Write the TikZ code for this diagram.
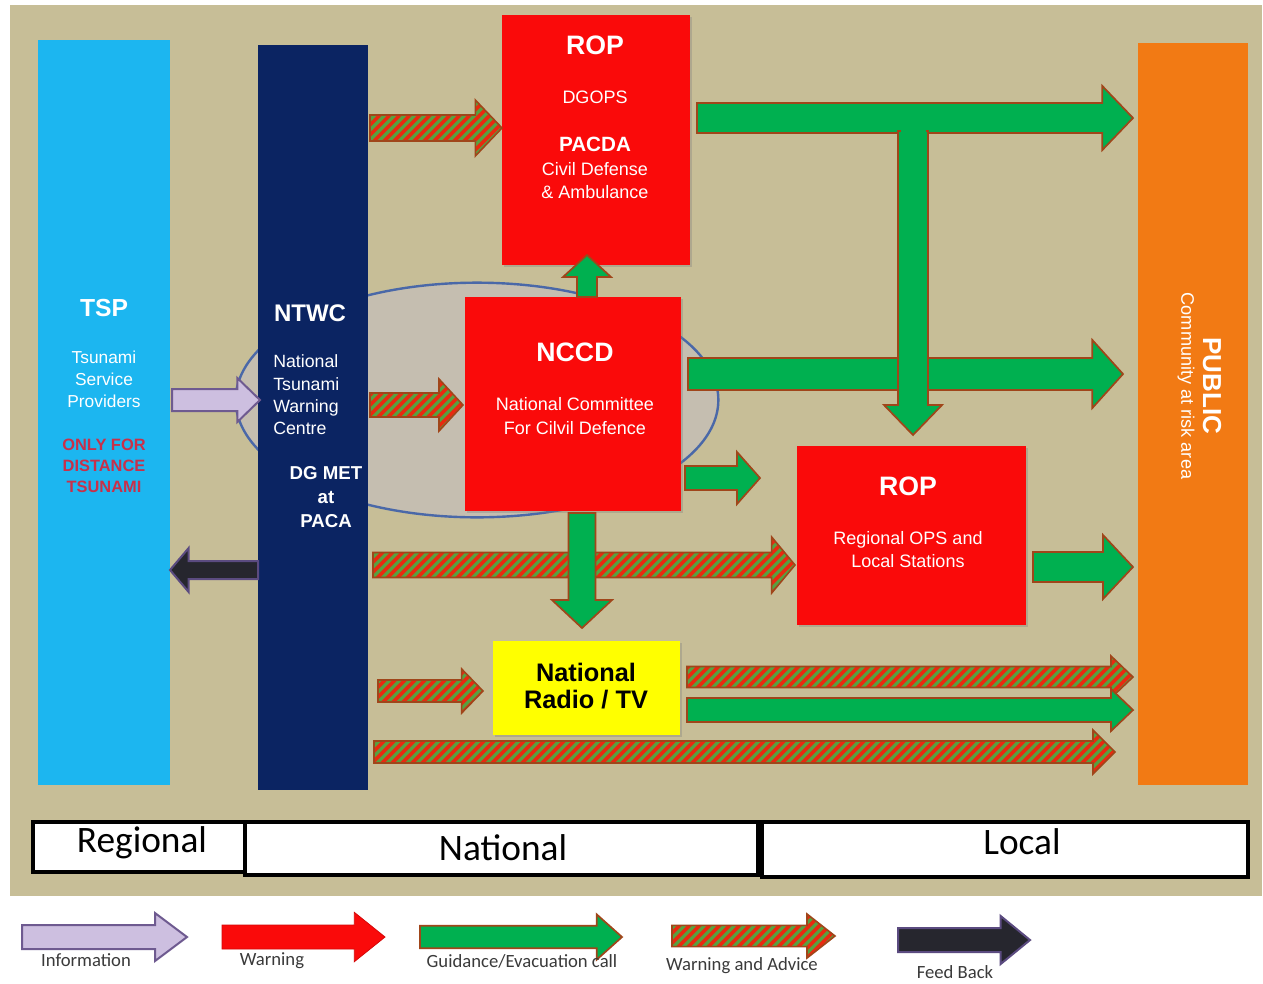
\documentclass[tikz,border=0pt]{standalone}
\usepackage{fontspec}
\setmainfont{Liberation Sans}
\newfontfamily\calib{Carlito}
\usetikzlibrary{calc,fit,shadows,shapes.geometric}
\definecolor{bgbeige}{HTML}{C7BE97}
\definecolor{tspblue}{HTML}{1CB6F0}
\definecolor{navy}{HTML}{0B2462}
\definecolor{boxred}{HTML}{FA0A0A}
\definecolor{radioyel}{HTML}{FFFF00}
\definecolor{pubor}{HTML}{F27A14}
\definecolor{arrgreen}{HTML}{00B050}
\definecolor{brownline}{HTML}{A0461A}
\definecolor{stripered}{HTML}{E82A10}
\definecolor{stripegreen}{HTML}{58A040}
\definecolor{lav}{HTML}{CDBFE0}
\definecolor{lavdark}{HTML}{6E5A90}
\definecolor{fbdark}{HTML}{26262E}
\definecolor{fbpurple}{HTML}{5B4B80}
\definecolor{ellfill}{HTML}{C5BEB0}
\definecolor{ellblue}{HTML}{4A68A8}
\definecolor{onlyred}{HTML}{C8304A}
\definecolor{legtext}{HTML}{3A3A3A}
\newcommand\arrowpoly[5]{let \p1=(#1), \p2=(#2), \n1={atan2(\y2-\y1,\x2-\x1)} in
  ($(\p1)+(\n1+90:#3)$) -- ($(\p2)+(\n1+180:#5)+(\n1+90:#3)$) --
  ($(\p2)+(\n1+180:#5)+(\n1+90:#4)$) -- (\p2) --
  ($(\p2)+(\n1+180:#5)+(\n1-90:#4)$) -- ($(\p2)+(\n1+180:#5)+(\n1-90:#3)$) --
  ($(\p1)+(\n1-90:#3)$) -- cycle}
\newcommand\blockarrow[6][]{\path[#1] \arrowpoly{#2}{#3}{#4}{#5}{#6};}
\newcommand\stripearrow[5]{%
  \begin{scope}
    \clip \arrowpoly{#1}{#2}{#3}{#4}{#5};
    \fill[stripered] (0,0) rectangle (1263,983);
    \foreach \k in {-1000,-990,...,1260} \draw[stripegreen,line width=2.4pt] (\k,1000) -- ++(1000,-1000);
  \end{scope}
  \draw[brownline,line width=1.2pt,line join=miter] \arrowpoly{#1}{#2}{#3}{#4}{#5};}
\begin{document}
\begin{tikzpicture}[x=0.75pt,y=-0.75pt,
  box/.style={inner sep=0pt,outer sep=0pt},
  shbox/.style={box,drop shadow={shadow xshift=1.3pt,shadow yshift=-1.3pt,opacity=0.35}},
  redbox/.style={shbox,fill=boxred},
  ttl/.style={font=\fontsize{20}{24}\selectfont\bfseries,text=white,inner sep=0pt},
  body/.style={font=\fontsize{13.5}{17.25}\selectfont,text=white,align=center,inner sep=0pt},
  garrow/.style={fill=arrgreen,draw=brownline,line width=1.3pt,line join=miter},
  infoa/.style={fill=lav,draw=lavdark,line width=1.5pt,line join=miter},
  fba/.style={fill=fbdark,draw=fbpurple,line width=1.5pt,line join=miter},
  warna/.style={fill=boxred,draw=boxred!85!black,line width=0.6pt,line join=miter},
  band/.style={box,fill=white,draw=black,line width=2.3pt,drop shadow={shadow xshift=1pt,shadow yshift=-1.5pt,opacity=0.4}},
  bandtext/.style={font=\calib\fontsize{28}{30}\selectfont,inner sep=0pt},
  legtxt/.style={font=\calib\fontsize{14}{16}\selectfont,text=legtext,inner sep=0pt}]
\useasboundingbox (0,0) rectangle (1263,983);
\fill[white] (0,0) rectangle (1263,983);
\fill[bgbeige] (10,5) rectangle (1262,896);
% ellipse
\node[ellipse,draw=ellblue,fill=ellfill,line width=1.8pt,minimum width=362pt,minimum height=176pt,inner sep=0pt] (ell) at (477,400) {};
% main boxes
\node[box,fill=tspblue,fit={(38,40) (170,785)}] (tsp) {};
\node[box,fill=navy,fit={(258,45) (368,790)}] (ntwc) {};
\node[redbox,fit={(502,15) (690,265)}] (rop1) {};
\node[redbox,fit={(465,297) (681,511)}] (nccd) {};
\node[redbox,fit={(797,446) (1026,625)}] (rop2) {};
\node[shbox,fill=radioyel,fit={(493,641) (680,735)}] (radio) {};
\node[box,fill=pubor,fit={(1138,43) (1248,785)}] (public) {};
% band boxes
\node[band,fit={(33,822) (245,872)}] (regbox) {};
\node[band,fit={(245,822) (758,875)}] (natbox) {};
\node[band,fit={(762,822) (1248,877)}] (locbox) {};
% arrows: warning and advice (striped)
\stripearrow{$(ntwc.east |- 0,128)+(2,0)$}{rop1.west |- 0,128}{9.75pt}{21pt}{20pt}
\stripearrow{$(ntwc.east |- 0,405)+(2,0)$}{$(nccd.west |- 0,405)+(-2,0)$}{9pt}{19.5pt}{18pt}
\stripearrow{$(ntwc.east |- 0,565)+(5,0)$}{$(rop2.west |- 0,565)+(-2,0)$}{9.4pt}{21pt}{17.5pt}
\stripearrow{$(ntwc.east |- 0,691)+(10,0)$}{$(radio.west |- 0,691)+(-10,0)$}{8.25pt}{16.5pt}{16pt}
\stripearrow{$(ntwc.east |- 0,752)+(6,0)$}{$(public.west |- 0,752)+(-23,0)$}{8.25pt}{16.5pt}{16.5pt}
\stripearrow{$(radio.east |- 0,677)+(7,0)$}{$(public.west |- 0,677)+(-5,0)$}{7.9pt}{15.75pt}{16.5pt}
% information and feedback
\blockarrow[infoa]{$(tsp.east |- 0,400)+(2,0)$}{$(ntwc.west |- 0,400)+(2,0)$}{8.25pt}{16.5pt}{17pt}
\blockarrow[fba]{ntwc.west |- 0,570}{tsp.east |- 0,570}{6.75pt}{16.5pt}{14pt}
% guidance arrows (green)
\blockarrow[garrow]{$(radio.east |- 0,710)+(7,0)$}{$(public.west |- 0,710)+(-5,0)$}{9pt}{15.75pt}{16.5pt}
\blockarrow[garrow]{$(rop1.east |- 0,118)+(7,0)$}{$(public.west |- 0,118)+(-5,0)$}{11.25pt}{24pt}{23pt}
\blockarrow[garrow]{$(nccd.east |- 0,374)+(7,0)$}{$(public.west |- 0,374)+(-15,0)$}{12pt}{25.5pt}{23pt}
\coordinate (tjoin) at (913,131);
\blockarrow[garrow]{tjoin}{$(rop2.north -| 913,0)+(0,-11)$}{11.25pt}{21.75pt}{22.5pt}
\fill[arrgreen] (900.5,127) rectangle (925.5,137);
\blockarrow[garrow]{$(nccd.east |- 0,478)+(4,0)$}{$(rop2.west |- 0,478)+(-37,0)$}{9pt}{19.5pt}{17.25pt}
\blockarrow[garrow]{$(rop2.east |- 0,567)+(7,0)$}{$(public.west |- 0,567)+(-5,0)$}{11.25pt}{24pt}{22.5pt}
\blockarrow[garrow]{$(nccd.south -| 582,0)+(0,2)$}{$(radio.north -| 582,0)+(0,-13)$}{10.1pt}{22.5pt}{21pt}
\blockarrow[garrow]{nccd.north -| 587,0}{$(rop1.south -| 587,0)+(0,-10)$}{7.5pt}{18pt}{16.5pt}
% texts
\node[ttl,font=\fontsize{18.5}{22}\selectfont\bfseries] (tspt) at (104,308) {TSP};
\node[body,font=\fontsize{13}{16.5}\selectfont] (tspb) at (104,379) {Tsunami\\Service\\Providers};
\node[body,text=onlyred,font=\fontsize{12.3}{16}\selectfont\bfseries] (tspo) at (104,466) {ONLY FOR\\DISTANCE\\TSUNAMI};
\node[ttl,font=\fontsize{18}{22}\selectfont\bfseries] (ntwct) at (310,313) {NTWC};
\node[body,align=left,anchor=west,font=\fontsize{13.3}{16.75}\selectfont] (ntwcb) at (273,395) {National\\Tsunami\\Warning\\Centre};
\node[body,font=\fontsize{14}{18}\selectfont\bfseries] (ntwcd) at (326,497) {DG MET\\at\\PACA};
\node[ttl] (rop1t) at (595,45) {ROP};
\node[body] (rop1d) at (595,97) {DGOPS};
\node[ttl,font=\fontsize{15.5}{18}\selectfont\bfseries] (rop1p) at (595,144) {PACDA};
\node[body] (rop1b) at (595,181) {Civil Defense\\\& Ambulance};
\node[ttl] (nccdt) at (575,352) {NCCD};
\node[body,font=\fontsize{13.5}{18}\selectfont] (nccdb) at (575,416) {National Committee\\For Cilvil Defence};
\node[ttl] (rop2t) at (908,486) {ROP};
\node[body] (rop2b) at (908,550) {Regional OPS and\\Local Stations};
\node[body,text=black,font=\fontsize{19}{20.5}\selectfont\bfseries] (radiot) at (586,686) {National\\Radio / TV};
\node[ttl,rotate=-90,font=\fontsize{19.5}{22}\selectfont\bfseries] (pubt) at (1212,386) {PUBLIC};
\node[body,rotate=-90,font=\fontsize{13.6}{16}\selectfont] (pubb) at (1186,386) {Community at risk area};
\node[bandtext] (regt) at (142,843) {Regional};
\node[bandtext] (natt) at (503,848) {National};
\node[bandtext] (loct) at (1022,842) {Local};
% legend
\coordinate (lg1a) at (22,937); \coordinate (lg1b) at (187,937);
\coordinate (lg2a) at (222,937); \coordinate (lg2b) at (385,937);
\coordinate (lg3a) at (420,937); \coordinate (lg3b) at (622,937);
\coordinate (lg4a) at (672,936); \coordinate (lg4b) at (835,936);
\coordinate (lg5a) at (898,940); \coordinate (lg5b) at (1030,940);
\blockarrow[infoa]{lg1a}{lg1b}{9pt}{18pt}{24pt}
\blockarrow[warna]{lg2a}{lg2b}{9pt}{18.5pt}{23pt}
\blockarrow[garrow]{lg3a}{lg3b}{8.5pt}{17pt}{19pt}
\stripearrow{lg4a}{lg4b}{8pt}{16.5pt}{21pt}
\blockarrow[fba]{lg5a}{lg5b}{9pt}{18pt}{22pt}
\node[legtxt] (lgt1) at (86,960) {Information};
\node[legtxt] (lgt2) at (272,961) {Warning};
\node[legtxt] (lgt3) at (522,961) {Guidance/Evacuation call};
\node[legtxt] (lgt4) at (742,966) {Warning and Advice};
\node[legtxt] (lgt5) at (955,972) {Feed Back};
\end{tikzpicture}
\end{document}
